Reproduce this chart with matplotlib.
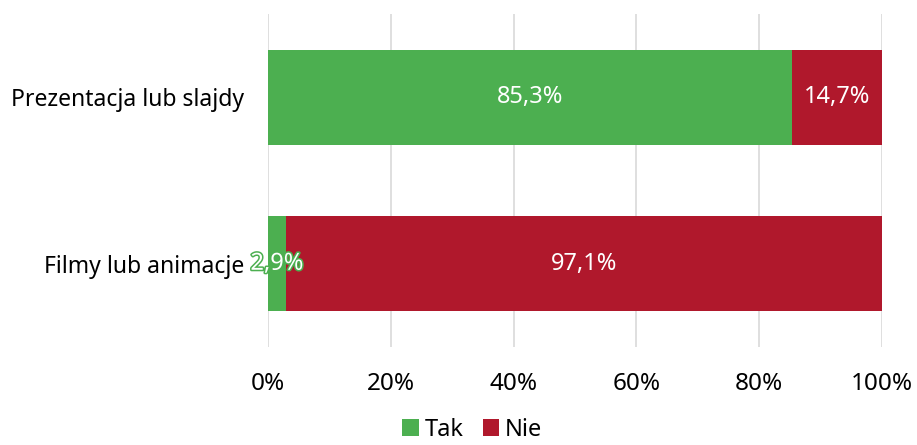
import matplotlib.pyplot as plt
import matplotlib.patheffects as pe
import numpy as np

categories = ["Prezentacja lub slajdy", "Filmy lub animacje"]
tak = [85.3, 2.9]
nie = [14.7, 97.1]
series_names = ["Tak", "Nie"]
xticks = [0, 20, 40, 60, 80, 100]

GREEN = "#4CAF50"
RED = "#B0182C"

plt.rcParams["font.family"] = ["Noto Sans", "DejaVu Sans"]

fig = plt.figure(figsize=(9.17, 4.45), dpi=100)
ax = fig.add_axes([0.2923, 0.2202, 0.6695, 0.7483])

y = np.arange(len(categories))
h = 0.57
b1 = ax.barh(y, tak, height=h, color=GREEN, label=series_names[0], zorder=3)
b2 = ax.barh(y, nie, left=tak, height=h, color=RED, label=series_names[1], zorder=3)


def fmt(v):
    return f"{v:.1f}%".replace(".", ",")


for i in range(len(categories)):
    t = ax.text(tak[i] / 2, y[i], fmt(tak[i]), ha="center", va="center",
                color="white", fontsize=17, zorder=5)
    if tak[i] < 10:
        t.set_path_effects([pe.withStroke(linewidth=2.2, foreground=GREEN)])
    ax.text(tak[i] + nie[i] / 2, y[i], fmt(nie[i]), ha="center", va="center",
            color="white", fontsize=17, zorder=5)

ax.set_xlim(0, 100)
ax.set_ylim(1.5, -0.5)
ax.set_xticks(xticks)
ax.set_xticklabels([f"{v}%" for v in xticks], fontsize=17.5)
ax.set_yticks(y)
ax.set_yticklabels(categories, fontsize=16.5)
ax.tick_params(axis="both", length=0)
ax.tick_params(axis="x", pad=18)
ax.tick_params(axis="y", pad=17)
ax.grid(axis="x", color="#d9d9d9", linewidth=1.2, zorder=0)
for s in ax.spines.values():
    s.set_visible(False)

fig.legend(handles=[b1, b2], labels=series_names, loc="lower center",
           bbox_to_anchor=(0.515, -0.04), ncol=2, frameon=False, fontsize=17,
           handlelength=0.7, handleheight=0.7, handletextpad=0.25, columnspacing=0.8)

fig.savefig("out.png", dpi=100)
